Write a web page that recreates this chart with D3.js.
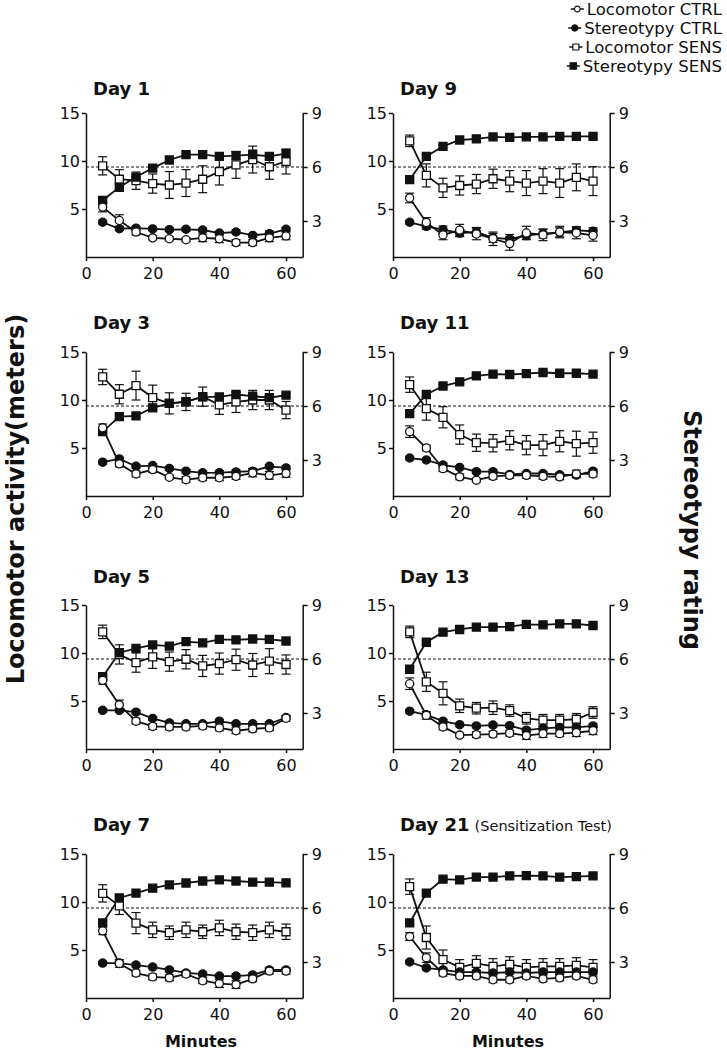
<!DOCTYPE html>
<html>
<head>
<meta charset="utf-8">
<script src="https://cdn.jsdelivr.net/npm/d3@7"></script>
<style>
  body { margin: 0; background: #fff; }
  svg { display: block; font-family: "DejaVu Sans", sans-serif; }
</style>
</head>
<body>
<svg id="chart" width="727" height="1050"></svg>
<script>
// ---- data ----
const minutes = [5, 10, 15, 20, 25, 30, 35, 40, 45, 50, 55, 60];
const days = ["Day 1", "Day 3", "Day 5", "Day 7", "Day 9", "Day 11", "Day 13", "Day 21"];
const xTicks = [0, 20, 40, 60];
const leftTicks = [5, 10, 15];
const rightTicks = [3, 6, 9];
const seriesNames = ["Locomotor CTRL", "Stereotypy CTRL", "Locomotor SENS", "Stereotypy SENS"];

// locomotor activity (meters), left axis
const locoCtrl = [
  [5.2, 3.8, 2.6, 2.0, 1.9, 1.8, 2.0, 1.9, 1.5, 1.5, 2.0, 2.2],
  [7.1, 3.35, 2.3, 2.75, 1.95, 1.7, 1.9, 1.9, 2.05, 2.4, 2.15, 2.35],
  [7.15, 4.6, 2.9, 2.35, 2.3, 2.3, 2.4, 2.2, 1.9, 2.1, 2.2, 3.2],
  [7.0, 3.6, 2.6, 2.2, 2.1, 2.5, 1.8, 1.5, 1.4, 2.0, 2.8, 2.8],
  [6.15, 3.6, 2.3, 2.8, 2.4, 1.9, 1.4, 2.5, 2.3, 2.6, 2.5, 2.25],
  [6.7, 5.0, 2.85, 2.0, 1.65, 2.05, 2.15, 2.15, 2.05, 2.0, 2.3, 2.3],
  [6.8, 3.5, 2.3, 1.45, 1.5, 1.55, 1.65, 1.4, 1.6, 1.6, 1.7, 1.9],
  [6.4, 4.2, 2.6, 2.3, 2.3, 1.9, 1.9, 2.3, 2.0, 2.1, 2.3, 1.9]
];
const locoCtrlErr = [
  [0.5, 0.6, 0.3, 0.2, 0.2, 0.2, 0.4, 0.4, 0.3, 0.3, 0.4, 0.4],
  [0.4, 0.3, 0.3, 0.3, 0.2, 0.3, 0.3, 0.3, 0.3, 0.4, 0.4, 0.4],
  [0.4, 0.5, 0.3, 0.3, 0.3, 0.3, 0.3, 0.3, 0.3, 0.3, 0.3, 0.3],
  [0.4, 0.4, 0.3, 0.3, 0.3, 0.3, 0.3, 0.4, 0.4, 0.3, 0.3, 0.3],
  [0.5, 0.5, 0.5, 0.6, 0.6, 0.7, 0.7, 0.7, 0.6, 0.6, 0.6, 0.6],
  [0.6, 0.3, 0.3, 0.3, 0.2, 0.3, 0.3, 0.3, 0.3, 0.3, 0.4, 0.3],
  [0.6, 0.4, 0.3, 0.2, 0.3, 0.3, 0.3, 0.4, 0.4, 0.3, 0.4, 0.4],
  [0.4, 0.5, 0.3, 0.3, 0.3, 0.3, 0.3, 0.3, 0.3, 0.3, 0.3, 0.3]
];
const locoSens = [
  [9.5, 8.1, 7.95, 7.65, 7.5, 7.7, 8.1, 8.9, 9.6, 10.15, 9.4, 9.95],
  [12.4, 10.6, 11.5, 10.25, 9.65, 9.8, 10.35, 9.5, 9.8, 10.0, 10.0, 8.95],
  [12.2, 9.85, 9.0, 9.6, 9.1, 9.35, 8.65, 8.9, 9.3, 8.75, 9.15, 8.8],
  [10.9, 9.6, 7.8, 7.1, 6.8, 7.1, 6.9, 7.3, 6.9, 6.8, 7.1, 6.9],
  [12.1, 8.5, 7.2, 7.45, 7.6, 8.15, 7.9, 7.7, 7.9, 7.7, 8.3, 7.9],
  [11.6, 9.1, 8.2, 6.4, 5.55, 5.5, 5.8, 5.3, 5.3, 5.7, 5.45, 5.55],
  [12.2, 7.0, 5.8, 4.5, 4.25, 4.3, 4.0, 3.2, 3.0, 3.0, 3.1, 3.8],
  [11.6, 6.3, 4.0, 3.2, 3.6, 3.3, 3.5, 3.2, 3.3, 3.3, 3.4, 3.2]
];
const locoSensErr = [
  [0.95, 1.0, 0.9, 1.0, 1.4, 1.4, 1.4, 1.4, 1.4, 1.4, 1.3, 1.3],
  [0.8, 1.0, 1.5, 1.3, 1.1, 0.9, 1.0, 1.0, 1.1, 1.0, 1.0, 0.9],
  [0.7, 1.0, 1.0, 1.2, 1.0, 1.0, 1.1, 1.1, 1.1, 1.2, 1.3, 1.0],
  [0.9, 0.9, 1.1, 0.8, 0.7, 0.8, 0.7, 0.8, 0.8, 0.8, 0.8, 0.8],
  [0.6, 1.2, 1.0, 1.0, 1.0, 1.0, 1.1, 1.3, 1.3, 1.5, 1.4, 1.5],
  [0.8, 1.2, 1.1, 1.0, 0.9, 0.9, 1.0, 1.0, 1.1, 1.1, 1.3, 1.1],
  [0.6, 1.0, 1.2, 0.7, 0.6, 0.7, 0.6, 0.6, 0.6, 0.6, 0.6, 0.6],
  [0.8, 1.2, 1.0, 0.8, 0.8, 0.8, 0.8, 0.8, 0.8, 0.8, 0.8, 0.8]
];

// stereotypy rating, right axis
const stereoCtrl = [
  [2.93, 2.57, 2.6, 2.56, 2.52, 2.54, 2.5, 2.33, 2.39, 2.2, 2.3, 2.54],
  [2.88, 3.06, 2.65, 2.69, 2.53, 2.38, 2.29, 2.3, 2.34, 2.38, 2.65, 2.56],
  [3.15, 3.15, 3.05, 2.7, 2.45, 2.4, 2.4, 2.55, 2.4, 2.4, 2.4, 2.75],
  [2.94, 2.94, 2.83, 2.72, 2.56, 2.39, 2.33, 2.22, 2.22, 2.28, 2.56, 2.56],
  [2.93, 2.7, 2.52, 2.33, 2.39, 2.06, 2.0, 2.19, 2.3, 2.37, 2.48, 2.43],
  [3.11, 3.0, 2.72, 2.59, 2.35, 2.35, 2.2, 2.25, 2.25, 2.18, 2.16, 2.38],
  [3.1, 2.9, 2.55, 2.35, 2.28, 2.33, 2.3, 2.05, 2.15, 2.2, 2.2, 2.28],
  [3.0, 2.67, 2.56, 2.44, 2.44, 2.39, 2.44, 2.39, 2.44, 2.44, 2.44, 2.44]
];
const stereoCtrlErr = [
  [0.1, 0.1, 0.1, 0.1, 0.1, 0.1, 0.1, 0.1, 0.1, 0.1, 0.15, 0.1],
  [0.1, 0.1, 0.1, 0.1, 0.1, 0.1, 0.1, 0.1, 0.1, 0.15, 0.1, 0.1],
  [0.1, 0.1, 0.1, 0.1, 0.1, 0.1, 0.1, 0.1, 0.1, 0.1, 0.1, 0.1],
  [0.1, 0.1, 0.1, 0.1, 0.1, 0.1, 0.1, 0.1, 0.1, 0.1, 0.1, 0.1],
  [0.1, 0.15, 0.2, 0.2, 0.25, 0.25, 0.25, 0.2, 0.25, 0.25, 0.2, 0.2],
  [0.1, 0.1, 0.1, 0.1, 0.1, 0.1, 0.1, 0.1, 0.1, 0.1, 0.1, 0.1],
  [0.1, 0.1, 0.1, 0.1, 0.1, 0.1, 0.1, 0.1, 0.1, 0.1, 0.1, 0.1],
  [0.1, 0.1, 0.1, 0.1, 0.1, 0.1, 0.1, 0.1, 0.1, 0.1, 0.1, 0.1]
];
const stereoSens = [
  [4.15, 4.87, 5.44, 5.94, 6.39, 6.69, 6.69, 6.59, 6.63, 6.69, 6.59, 6.74],
  [4.58, 5.41, 5.45, 5.9, 6.15, 6.24, 6.51, 6.51, 6.64, 6.55, 6.46, 6.6],
  [5.02, 6.35, 6.59, 6.78, 6.72, 6.96, 6.9, 7.09, 7.06, 7.11, 7.09, 7.0],
  [5.17, 6.56, 6.83, 7.1, 7.28, 7.39, 7.5, 7.56, 7.5, 7.44, 7.44, 7.4],
  [5.3, 6.59, 7.15, 7.5, 7.56, 7.67, 7.65, 7.67, 7.67, 7.7, 7.7, 7.7],
  [5.58, 6.64, 7.11, 7.34, 7.67, 7.77, 7.75, 7.8, 7.86, 7.82, 7.82, 7.77],
  [5.43, 6.93, 7.49, 7.64, 7.77, 7.77, 7.8, 7.92, 7.9, 7.95, 7.95, 7.86],
  [5.17, 6.83, 7.6, 7.56, 7.72, 7.72, 7.78, 7.8, 7.78, 7.72, 7.74, 7.78]
];
const stereoSensErr = [
  [0.15, 0.15, 0.15, 0.15, 0.15, 0.15, 0.15, 0.2, 0.2, 0.25, 0.15, 0.2],
  [0.1, 0.1, 0.1, 0.1, 0.1, 0.1, 0.1, 0.1, 0.1, 0.1, 0.1, 0.1],
  [0.1, 0.1, 0.1, 0.1, 0.1, 0.1, 0.1, 0.1, 0.1, 0.1, 0.1, 0.1],
  [0.1, 0.1, 0.1, 0.1, 0.1, 0.1, 0.1, 0.1, 0.1, 0.1, 0.1, 0.1],
  [0.1, 0.1, 0.1, 0.1, 0.1, 0.1, 0.1, 0.1, 0.1, 0.1, 0.1, 0.1],
  [0.1, 0.1, 0.1, 0.1, 0.1, 0.1, 0.1, 0.1, 0.1, 0.1, 0.1, 0.1],
  [0.1, 0.1, 0.1, 0.1, 0.1, 0.1, 0.1, 0.1, 0.1, 0.1, 0.1, 0.1],
  [0.1, 0.1, 0.1, 0.1, 0.1, 0.1, 0.1, 0.1, 0.1, 0.1, 0.1, 0.1]
];

// ---- layout ----
const svg = d3.select("#chart");
const ink = "#111";
const colX = [86, 393];
const rowTop = [113, 352, 605, 854];
const titleY = [95, 329, 583, 831];
const plotW = 216.7, plotH = 144;

// marker styles per series
const styles = [
  { sym: d3.symbolCircle, size: 52, fill: "#fff" },
  { sym: d3.symbolCircle, size: 52, fill: ink },
  { sym: d3.symbolSquare, size: 64, fill: "#fff" },
  { sym: d3.symbolSquare, size: 64, fill: ink }
];

const styleAxis = g => {
  g.attr("font-family", null).attr("font-size", null);
  g.selectAll("path, line").attr("stroke", ink).attr("stroke-width", 1.5);
  g.selectAll("text").attr("fill", ink).style("font-size", "16px");
};

days.forEach((day, i) => {
  const col = Math.floor(i / 4), row = i % 4;
  const x0 = colX[col], top = rowTop[row];
  const x = d3.scaleLinear().domain([0, 65]).range([x0, x0 + plotW]);
  const yL = d3.scaleLinear().domain([0, 15]).range([top + plotH, top]);
  const yR = d3.scaleLinear().domain([1, 9]).range([top + plotH, top]);
  const g = svg.append("g").attr("class", "panel");

  // axes
  g.append("g")
    .attr("transform", `translate(0,${top + plotH})`)
    .call(d3.axisBottom(x).tickValues(xTicks).tickSize(4).tickSizeOuter(0).tickPadding(7))
    .call(styleAxis);
  g.append("g")
    .attr("transform", `translate(${x0},0)`)
    .call(d3.axisLeft(yL).tickValues(leftTicks).tickSize(4).tickSizeOuter(0).tickPadding(2))
    .call(styleAxis);
  g.append("g")
    .attr("transform", `translate(${x(65)},0)`)
    .call(d3.axisRight(yR).tickValues(rightTicks).tickSize(5).tickSizeOuter(0).tickPadding(4))
    .call(styleAxis);

  // dashed reference line at rating 6
  g.append("line")
    .attr("x1", x(0)).attr("x2", x(65))
    .attr("y1", yR(6)).attr("y2", yR(6))
    .attr("stroke", ink).attr("stroke-width", 1)
    .attr("stroke-dasharray", "3,2");

  // title
  const t = g.append("text")
    .attr("x", x0 + 7).attr("y", titleY[row])
    .attr("fill", ink)
    .style("font-size", "18px").style("font-weight", "bold")
    .text(day);
  if (day === "Day 21") {
    t.append("tspan").attr("dx", 5)
      .style("font-size", "14.5px").style("font-weight", "normal")
      .text("(Sensitization Test)");
  }

  const series = [
    { vals: locoSens[i], errs: locoSensErr[i], y: yL, st: styles[2] },
    { vals: stereoSens[i], errs: stereoSensErr[i], y: yR, st: styles[3] },
    { vals: stereoCtrl[i], errs: stereoCtrlErr[i], y: yR, st: styles[1] },
    { vals: locoCtrl[i], errs: locoCtrlErr[i], y: yL, st: styles[0] }
  ];

  series.forEach(s => {
    const line = d3.line().x((d, j) => x(minutes[j])).y(d => s.y(d));
    g.append("path")
      .datum(s.vals)
      .attr("d", line)
      .attr("fill", "none")
      .attr("stroke", ink)
      .attr("stroke-width", 1.8);

    const eb = g.append("g").attr("stroke", ink).attr("stroke-width", 1.2);
    s.vals.forEach((v, j) => {
      const cx = x(minutes[j]);
      const lo = s.y(v - s.errs[j]), hi = s.y(v + s.errs[j]);
      eb.append("line").attr("x1", cx).attr("x2", cx).attr("y1", lo).attr("y2", hi);
      eb.append("line").attr("x1", cx - 4.5).attr("x2", cx + 4.5).attr("y1", lo).attr("y2", lo);
      eb.append("line").attr("x1", cx - 4.5).attr("x2", cx + 4.5).attr("y1", hi).attr("y2", hi);
    });
  });

  series.forEach(s => {
    g.append("g").selectAll("path")
      .data(s.vals)
      .join("path")
      .attr("transform", (d, j) => `translate(${x(minutes[j])},${s.y(d)})`)
      .attr("d", d3.symbol(s.st.sym, s.st.size))
      .attr("fill", s.st.fill)
      .attr("stroke", ink)
      .attr("stroke-width", 1.3);
  });

  // x axis title on bottom row
  if (row === 3) {
    g.append("text")
      .attr("x", x(34.5)).attr("y", 1047)
      .attr("text-anchor", "middle")
      .attr("fill", ink)
      .style("font-size", "16px").style("font-weight", "bold")
      .text("Minutes");
  }
});

// axis titles
svg.append("text")
  .attr("transform", "translate(24,499) rotate(-90)")
  .attr("text-anchor", "middle")
  .attr("fill", ink)
  .style("font-size", "24px").style("font-weight", "bold")
  .text("Locomotor activity(meters)");
svg.append("text")
  .attr("transform", "translate(684,530) rotate(90)")
  .attr("text-anchor", "middle")
  .attr("fill", ink)
  .style("font-size", "24px").style("font-weight", "bold")
  .text("Stereotypy rating");

// legend
const legendY = [15, 34, 53, 72];
const legendStyles = [
  { sym: d3.symbolCircle, size: 26, fill: "#fff" },
  { sym: d3.symbolCircle, size: 30, fill: ink },
  { sym: d3.symbolSquare, size: 36, fill: "#fff" },
  { sym: d3.symbolSquare, size: 40, fill: ink }
];
seriesNames.forEach((name, k) => {
  const lg = svg.append("g");
  const txt = lg.append("text")
    .attr("x", 722).attr("y", legendY[k])
    .attr("text-anchor", "end")
    .attr("fill", ink)
    .style("font-size", "16.5px")
    .text(name);
  const tx = 722 - txt.node().getComputedTextLength();
  const my = legendY[k] - 6;
  lg.append("line")
    .attr("x1", tx - 16).attr("x2", tx - 3)
    .attr("y1", my).attr("y2", my)
    .attr("stroke", ink).attr("stroke-width", 1.5);
  lg.append("path")
    .attr("transform", `translate(${tx - 9.5},${my})`)
    .attr("d", d3.symbol(legendStyles[k].sym, legendStyles[k].size))
    .attr("fill", legendStyles[k].fill)
    .attr("stroke", ink)
    .attr("stroke-width", 1.2);
});
</script>
</body>
</html>
